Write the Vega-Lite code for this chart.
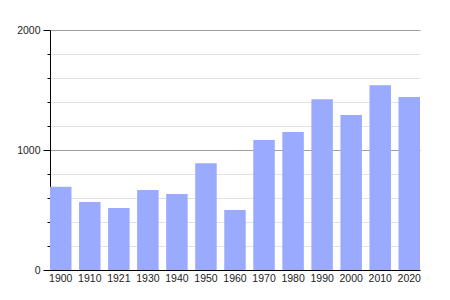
{
  "$schema": "https://vega.github.io/schema/vega-lite/v6.json",
  "autosize": {"type": "none"},
  "width": 370,
  "height": 240,
  "padding": {"left": 50, "top": 30, "right": 30, "bottom": 30},
  "background": "white",
  "config": {"view": {"stroke": null}, "font": "Liberation Sans"},
  "data": {"values": [
    {"year": "1900", "pop": 694},
    {"year": "1910", "pop": 567},
    {"year": "1921", "pop": 517},
    {"year": "1930", "pop": 667},
    {"year": "1940", "pop": 633},
    {"year": "1950", "pop": 889},
    {"year": "1960", "pop": 500},
    {"year": "1970", "pop": 1083},
    {"year": "1980", "pop": 1150},
    {"year": "1990", "pop": 1422},
    {"year": "2000", "pop": 1292},
    {"year": "2010", "pop": 1539},
    {"year": "2020", "pop": 1442}
  ]},
  "mark": {"type": "bar", "color": "#99aaff"},
  "encoding": {
    "x": {
      "field": "year", "type": "ordinal", "sort": null,
      "scale": {"paddingInner": 0.26, "paddingOuter": 0},
      "axis": {
        "title": null, "labelAngle": 0, "ticks": false, "domainColor": "#000000",
        "domainWidth": 1, "labelFontSize": 10.5, "labelColor": "#222222", "labelPadding": 3
      }
    },
    "y": {
      "field": "pop", "type": "quantitative",
      "scale": {"domain": [0, 2000], "nice": false},
      "axis": {
        "title": null,
        "values": [0, 200, 400, 600, 800, 1000, 1200, 1400, 1600, 1800, 2000],
        "labelExpr": "datum.value % 1000 === 0 ? datum.value : ''",
        "labelFontSize": 10.5, "labelColor": "#222222", "labelPadding": 3,
        "domainColor": "#000000",
        "tickColor": "#000000",
        "tickSize": {"condition": {"test": "datum.value % 1000 === 0", "value": 7}, "value": 3},
        "grid": true,
        "gridColor": {"condition": {"test": "datum.value % 1000 === 0", "value": "#a0a0a0"}, "value": "#e2e2e2"},
        "gridWidth": 1
      }
    }
  }
}
